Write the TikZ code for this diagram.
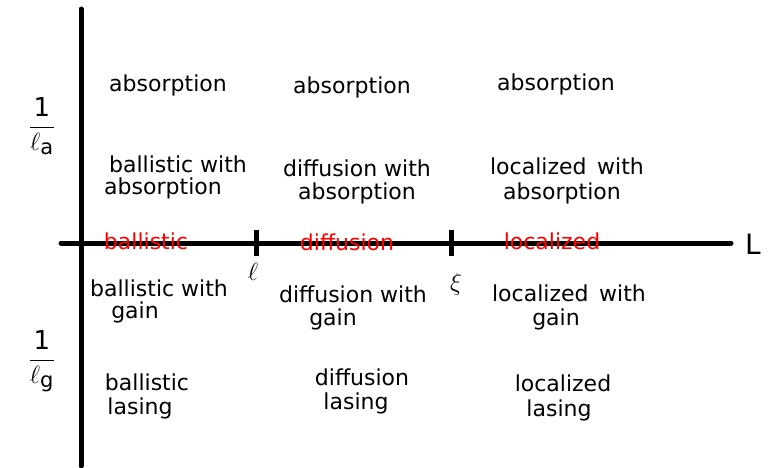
\documentclass[tikz,border=0pt]{standalone}
\usepackage{fontspec}
\setmainfont{DejaVu Sans}
\newcommand{\subtxt}[1]{\hbox{\fontsize{21}{21}\selectfont #1}}
\begin{document}
\begin{tikzpicture}[x=1pt,y=-1pt,
  lbl/.style={inner sep=0pt,font=\fontsize{22}{24}\selectfont,text=black},
  red lbl/.style={lbl,text=red},
  mlbl/.style={inner sep=0pt,font=\fontsize{26}{28}\selectfont},
  axis/.style={line width=5pt,line cap=round},
  tick/.style={line width=5pt}]
\useasboundingbox (0,0) rectangle (773,468);
% axes
\coordinate (vt) at (81,9);
\coordinate (vb) at (81,466);
\coordinate (hl) at (61,243);
\coordinate (hr) at (731,243);
\draw[axis] (vt) -- (vb);
\draw[axis] (hl) -- (hr);
\coordinate (t1a) at (256,230); \coordinate (t1b) at (256,256);
\coordinate (t2a) at (451,230); \coordinate (t2b) at (451,256);
\draw[tick] (t1a) -- (t1b);
\draw[tick] (t2a) -- (t2b);
\node[lbl,font=\fontsize{28}{30}\selectfont] (L) at (753,244) {L};
\node[mlbl] (ell) at (253,272) {$\ell$};
\node[mlbl] (xi) at (456,284) {$\xi$};
\node[mlbl] (la) at (42,126) {$\displaystyle\frac{\mbox{1}}{\ell_{\subtxt{a}}}$};
\node[mlbl] (lg) at (42,361) {$\displaystyle\frac{\mbox{1}}{\ell_{\subtxt{g}}}$};
% top row
\node[lbl] (a1) at (168,85) {absorption};
\node[lbl] (a2) at (352,87) {absorption};
\node[lbl] (a3) at (556,84) {absorption};
% with absorption
\node[lbl] (b1) at (178,164) {ballistic with};
\node[lbl] (b1b) at (163,188) {absorption};
\node[lbl] (b2) at (357,168) {diffusion with};
\node[lbl] (b2b) at (357,193) {absorption};
\node[lbl] (b3) at (567,166) {localized\ \,with};
\node[lbl] (b3b) at (562,193) {absorption};
% red on axis
\node[red lbl] (r1) at (146,241) {ballistic};
\node[red lbl] (r2) at (347,242) {diffusion};
\node[red lbl] (r3) at (552,241) {localized};
% with gain
\node[lbl] (g1) at (159,288) {ballistic with};
\node[lbl] (g1b) at (135,312) {gain};
\node[lbl] (g2) at (353,294) {diffusion with};
\node[lbl] (g2b) at (333,319) {gain};
\node[lbl] (g3) at (569,293) {localized\ \,with};
\node[lbl] (g3b) at (556,319) {gain};
% lasing
\node[lbl] (l1) at (147,382) {ballistic};
\node[lbl] (l1b) at (140,408) {lasing};
\node[lbl] (l2) at (362,377) {diffusion};
\node[lbl] (l2b) at (356,403) {lasing};
\node[lbl] (l3) at (563,383) {localized};
\node[lbl] (l3b) at (559,410) {lasing};
\end{tikzpicture}
\end{document}
